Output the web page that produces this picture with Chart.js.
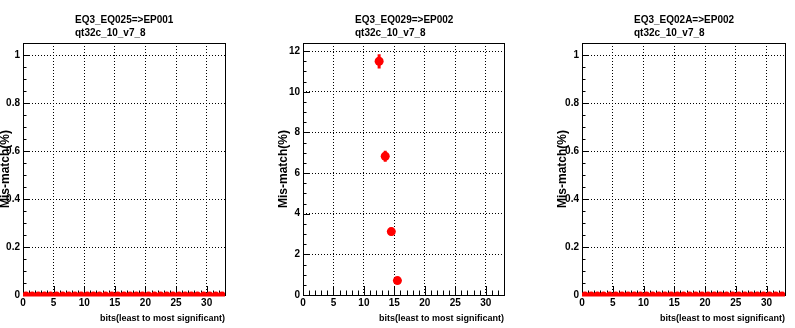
<!DOCTYPE html>
<html>
<head>
<meta charset="utf-8">
<title>Mis-match per bit</title>
<script src="https://cdn.jsdelivr.net/npm/chart.js@4.4.1/dist/chart.umd.min.js"></script>
<style>
  body { margin: 0; background: #fff; }
  #wrap { position: relative; width: 795px; height: 328px; }
  canvas { position: absolute; top: 0; }
</style>
</head>
<body>
<div id="wrap">
  <canvas id="c1" width="265" height="328" style="left:0"></canvas>
  <canvas id="c2" width="265" height="328" style="left:265px"></canvas>
  <canvas id="c3" width="265" height="328" style="left:530px"></canvas>
</div>
<script>
// mismatch rate per bit, one histogram per link (bins are one bit wide)
const allBits = [0, 1, 2, 3, 4, 5, 6, 7, 8, 9, 10, 11, 12, 13, 14, 15, 16,
                 17, 18, 19, 20, 21, 22, 23, 24, 25, 26, 27, 28, 29, 30, 31, 32];
const mismatch025 = [0, 0, 0, 0, 0, 0, 0, 0, 0, 0, 0, 0, 0, 0, 0, 0, 0,
                     0, 0, 0, 0, 0, 0, 0, 0, 0, 0, 0, 0, 0, 0, 0, 0];
const bits029 = [12, 13, 14, 15];
const mismatch029 = [11.5, 6.83, 3.12, 0.71];
const errors029 = [0.35, 0.27, 0.19, 0.09];
const mismatch02A = [0, 0, 0, 0, 0, 0, 0, 0, 0, 0, 0, 0, 0, 0, 0, 0, 0,
                     0, 0, 0, 0, 0, 0, 0, 0, 0, 0, 0, 0, 0, 0, 0, 0];
const noErrors = [0, 0, 0, 0, 0, 0, 0, 0, 0, 0, 0, 0, 0, 0, 0, 0, 0,
                  0, 0, 0, 0, 0, 0, 0, 0, 0, 0, 0, 0, 0, 0, 0, 0];

const xTicks = [0, 5, 10, 15, 20, 25, 30];
const xTickLabels = ['0', '5', '10', '15', '20', '25', '30'];
const yTicksUnit = [0, 0.2, 0.4, 0.6, 0.8, 1];
const yTickLabelsUnit = ['0', '0.2', '0.4', '0.6', '0.8', '1'];
const yTicksWide = [0, 2, 4, 6, 8, 10, 12];
const yTickLabelsWide = ['0', '2', '4', '6', '8', '10', '12'];

const FONT = "'Liberation Sans', Arial, Helvetica, sans-serif";
const RED = '#ff0000';

const panels = [
  { id: 'c1', title: ['EQ3_EQ025=>EP001', 'qt32c_10_v7_8'], bits: allBits, values: mismatch025,
    errors: noErrors, yMax: 1.05, yTicks: yTicksUnit, yLabels: yTickLabelsUnit, yMinor: 0.05,
    axisWidth: 23, padRight: 40, titleGap: 0, radius: 3.5 },
  { id: 'c2', title: ['EQ3_EQ029=>EP002', 'qt32c_10_v7_8'], bits: bits029, values: mismatch029,
    errors: errors029, yMax: 12.4, yTicks: yTicksWide, yLabels: yTickLabelsWide, yMinor: 0.5,
    axisWidth: 38, padRight: 26, titleGap: 13, radius: 4.5 },
  { id: 'c3', title: ['EQ3_EQ02A=>EP002', 'qt32c_10_v7_8'], bits: allBits, values: mismatch02A,
    errors: noErrors, yMax: 1.05, yTicks: yTicksUnit, yLabels: yTickLabelsUnit, yMinor: 0.05,
    axisWidth: 52, padRight: 10, titleGap: 27, radius: 3.5 }
];

// frame, inside ticks, error bars and the two-line pad title
const histoPlugin = {
  id: 'histo',
  beforeDatasetsDraw(chart, args, opts) {
    const ctx = chart.ctx;
    const { left, right, top, bottom } = chart.chartArea;
    const xs = chart.scales.x, ys = chart.scales.y;
    ctx.save();
    ctx.strokeStyle = '#000';
    ctx.lineWidth = 1;
    ctx.beginPath();
    for (let v = 0; v <= 33; v++) {
      const px = Math.round(xs.getPixelForValue(v)) + 0.5;
      const len = v % 5 === 0 ? 9 : 4.5;
      ctx.moveTo(px, bottom);
      ctx.lineTo(px, bottom - len);
    }
    for (let i = 0; i * opts.yMinor <= opts.yMax; i++) {
      const py = Math.round(ys.getPixelForValue(i * opts.yMinor)) + 0.5;
      const len = i % 4 === 0 ? 7 : 3.5;
      ctx.moveTo(left, py);
      ctx.lineTo(left + len, py);
    }
    ctx.stroke();
    ctx.strokeRect(Math.round(left) + 0.5, Math.round(top) + 0.5,
                   Math.round(right - left), Math.round(bottom - top));

    // error bars: x spans the bin, y the statistical error
    ctx.strokeStyle = RED;
    ctx.lineWidth = 3;
    ctx.beginPath();
    opts.bits.forEach((b, i) => {
      const v = opts.values[i], e = opts.errors[i];
      const py = ys.getPixelForValue(v);
      ctx.moveTo(xs.getPixelForValue(b), py);
      ctx.lineTo(xs.getPixelForValue(b + 1), py);
      if (e > 0) {
        const px = xs.getPixelForValue(b + 0.5);
        ctx.moveTo(px, ys.getPixelForValue(v - e));
        ctx.lineTo(px, ys.getPixelForValue(v + e));
      }
    });
    ctx.stroke();
    ctx.restore();
  },
  afterDraw(chart, args, opts) {
    const ctx = chart.ctx;
    const x = chart.chartArea.left + 52;
    ctx.save();
    ctx.fillStyle = '#000';
    ctx.font = 'bold 10px ' + FONT;
    ctx.textAlign = 'left';
    ctx.textBaseline = 'middle';
    ctx.fillText(opts.title[0], x, 20);
    ctx.fillText(opts.title[1], x, 33);
    ctx.restore();
  }
};

panels.forEach(p => {
  new Chart(document.getElementById(p.id), {
    type: 'scatter',
    data: {
      datasets: [{
        data: p.bits.map((b, i) => ({ x: b + 0.5, y: p.values[i] })),
        pointRadius: p.radius,
        pointBackgroundColor: RED,
        pointBorderWidth: 0,
        showLine: false,
        clip: 0
      }]
    },
    options: {
      responsive: false,
      animation: false,
      layout: { padding: { top: 43, left: 0, right: p.padRight, bottom: 0 } },
      plugins: {
        legend: { display: false },
        tooltip: { enabled: false },
        histo: { title: p.title, bits: p.bits, values: p.values, errors: p.errors,
                 yMax: p.yMax, yMinor: p.yMinor }
      },
      scales: {
        x: {
          type: 'linear', min: 0, max: 33, bounds: 'data',
          afterBuildTicks: s => { s.ticks = xTicks.map(v => ({ value: v })); },
          afterFit: s => { s.height = 33; },
          ticks: {
            callback: (v, i) => xTickLabels[i],
            font: { family: FONT, size: 10, weight: 'bold' },
            color: '#000', padding: 2, autoSkip: false, maxRotation: 0
          },
          grid: { color: '#000', lineWidth: 1, drawTicks: false },
          border: { display: false, dash: [1, 2] },
          title: {
            display: true, text: 'bits(least to most significant)', align: 'end', color: '#000',
            font: { family: FONT, size: 9, weight: 'bold', lineHeight: 1 },
            padding: { top: 0, bottom: 5 }
          }
        },
        y: {
          type: 'linear', min: 0, max: p.yMax, bounds: 'data',
          afterBuildTicks: s => { s.ticks = p.yTicks.map(v => ({ value: v })); },
          afterFit: s => { s.width = p.axisWidth; },
          ticks: {
            callback: (v, i) => p.yLabels[i],
            font: { family: FONT, size: 10, weight: 'bold' },
            color: '#000', padding: 3, autoSkip: false
          },
          grid: { color: '#000', lineWidth: 1, drawTicks: false },
          border: { display: false, dash: [1, 2] },
          title: {
            display: true, text: 'Mis-match(%)', color: '#000',
            font: { family: FONT, size: 12, weight: 'bold', lineHeight: 1 },
            padding: { top: p.titleGap, bottom: 0 }
          }
        }
      }
    },
    plugins: [histoPlugin]
  });
});
</script>
</body>
</html>
